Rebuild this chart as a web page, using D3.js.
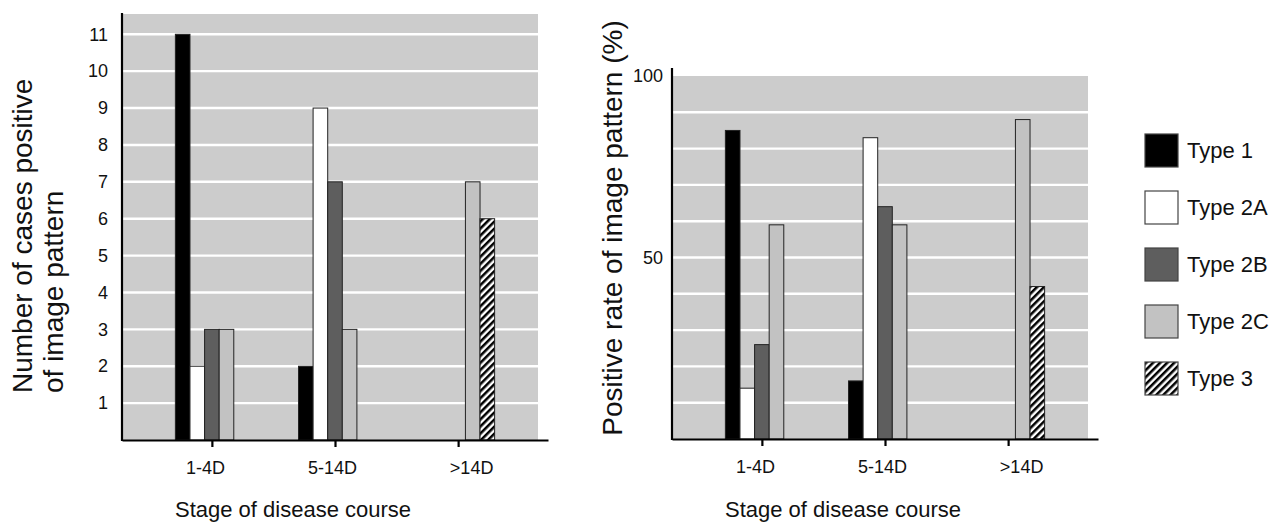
<!DOCTYPE html>
<html>
<head>
<meta charset="utf-8">
<script src="https://cdn.jsdelivr.net/npm/d3@7"></script>
<style>
  body { margin: 0; background: #fff; }
  svg { display: block; font-family: "Liberation Sans", Arial, sans-serif; }
</style>
</head>
<body>
<div id="chart"></div>
<script>
// categories
var stages = ["1-4D", "5-14D", ">14D"];
var types = ["Type 1", "Type 2A", "Type 2B", "Type 2C", "Type 3"];

// left panel: number of cases
var countType1 = [11, 2, 0];
var countType2A = [2, 9, 0];
var countType2B = [3, 7, 0];
var countType2C = [3, 3, 7];
var countType3 = [0, 0, 6];
var countTicks = [1, 2, 3, 4, 5, 6, 7, 8, 9, 10, 11];

// right panel: positive rate (%)
var rateType1 = [85, 16, 0];
var rateType2A = [14, 83, 0];
var rateType2B = [26, 64, 0];
var rateType2C = [59, 59, 88];
var rateType3 = [0, 0, 42];
var rateTicks = [50, 100];
var rateGrid = [10, 20, 30, 40, 50, 60, 70, 80, 90];

var width = 1278, height = 523;

var svg = d3.select("#chart")
    .append("svg")
    .attr("width", width)
    .attr("height", height);

// hatch for Type 3
svg.append("defs").append("pattern")
    .attr("id", "hatch")
    .attr("patternUnits", "userSpaceOnUse")
    .attr("width", 5)
    .attr("height", 5)
    .attr("patternTransform", "rotate(45)")
    .call(p => p.append("rect").attr("width", 5).attr("height", 5).attr("fill", "#fff"))
    .call(p => p.append("line").attr("x1", 1.25).attr("x2", 1.25).attr("y1", 0).attr("y2", 5)
        .attr("stroke", "#000").attr("stroke-width", 2.6));

var fills = {
    "Type 1": "#000000",
    "Type 2A": "#ffffff",
    "Type 2B": "#5e5e5e",
    "Type 2C": "#c2c2c2",
    "Type 3": "url(#hatch)"
};

function drawPanel(cfg) {
    var g = svg.append("g");

    // x scale - one point per stage, bars grouped around it
    var x = d3.scalePoint()
        .domain(stages)
        .range([cfg.left, cfg.left + 426])
        .padding(0.73);

    var xi = d3.scaleBand()
        .domain(types)
        .range([-36.5, 36.5]);

    var y = d3.scaleLinear()
        .domain([0, cfg.yMax])
        .range([cfg.bottom, cfg.bgTop]);

    // grey plot background
    g.append("rect")
        .attr("x", cfg.left + 1)
        .attr("y", y(cfg.yMax))
        .attr("width", 415)
        .attr("height", y(0) - y(cfg.yMax))
        .attr("fill", "#cccccc");

    // white grid lines
    g.append("g")
        .selectAll("line")
        .data(cfg.grid)
        .enter().append("line")
        .attr("x1", cfg.left + 1)
        .attr("x2", cfg.left + 416)
        .attr("y1", d => y(d))
        .attr("y2", d => y(d))
        .attr("stroke", "#fff")
        .attr("stroke-width", 2.4);

    // bars
    var rows = [];
    stages.forEach(function (s, i) {
        types.forEach(function (t, j) {
            var v = cfg.series[j][i];
            if (v > 0) rows.push({stage: s, type: t, value: v});
        });
    });

    g.append("g")
        .selectAll("rect")
        .data(rows)
        .enter().append("rect")
        .attr("x", d => x(d.stage) + xi(d.type))
        .attr("y", d => y(d.value))
        .attr("width", xi.bandwidth())
        .attr("height", d => y(0) - y(d.value))
        .attr("fill", d => fills[d.type])
        .attr("stroke", "#222")
        .attr("stroke-width", 1);

    // y axis labels
    var yAxis = g.append("g")
        .attr("transform", "translate(" + cfg.left + ",0)")
        .call(d3.axisLeft(y).tickValues(cfg.ticks).tickSize(0).tickPadding(cfg.tickPad));
    yAxis.select(".domain").remove();
    yAxis.selectAll("text")
        .style("font-size", "18px")
        .attr("fill", "#111");

    // y axis line (runs a bit above the grey)
    g.append("line")
        .attr("x1", cfg.left).attr("x2", cfg.left)
        .attr("y1", cfg.axisTop).attr("y2", cfg.bottom + 1)
        .attr("stroke", "#000").attr("stroke-width", 2.2);

    // x axis
    var xAxis = g.append("g")
        .attr("transform", "translate(0," + cfg.bottom + ")")
        .call(d3.axisBottom(x).tickSize(7).tickSizeOuter(0));
    xAxis.select(".domain")
        .attr("stroke", "#000")
        .attr("stroke-width", 2.2);
    xAxis.selectAll(".tick line")
        .attr("stroke", "#000")
        .attr("stroke-width", 2.2);
    var labelShift = [-7, -3, 13];
    xAxis.selectAll(".tick text")
        .attr("y", 34)
        .attr("dy", 0)
        .attr("dx", (d, i) => labelShift[i])
        .style("font-size", "18px")
        .attr("fill", "#111");

    // x title
    g.append("text")
        .attr("x", cfg.left + 53)
        .attr("y", 517)
        .style("font-size", "22px")
        .attr("fill", "#111")
        .text("Stage of disease course");

    // y title
    var yt = g.append("text")
        .attr("transform", "translate(" + cfg.titleX + "," + cfg.titleY + ") rotate(-90)")
        .attr("text-anchor", cfg.titleAnchor)
        .style("font-size", "28px")
        .attr("fill", "#111");
    cfg.title.forEach(function (line, i) {
        yt.append("tspan")
            .attr("x", 0)
            .attr("y", i * 31)
            .text(line);
    });
}

drawPanel({
    left: 122, bottom: 440, bgTop: 14, axisTop: 13, yMax: 11.55,
    series: [countType1, countType2A, countType2B, countType2C, countType3],
    ticks: countTicks, grid: countTicks, tickPad: 14,
    title: ["Number of cases positive", "of image pattern"],
    titleX: 32, titleY: 393, titleAnchor: "start"
});

drawPanel({
    left: 672, bottom: 439, bgTop: 76, axisTop: 68, yMax: 100,
    series: [rateType1, rateType2A, rateType2B, rateType2C, rateType3],
    ticks: rateTicks, grid: rateGrid, tickPad: 9,
    title: ["Positive rate of image pattern (%)"],
    titleX: 622, titleY: 228, titleAnchor: "middle"
});

// legend
var legend = svg.append("g")
    .selectAll("g")
    .data(types)
    .enter().append("g")
    .attr("transform", (d, i) => "translate(1145," + (134 + i * 57) + ")");

legend.append("rect")
    .attr("width", 33)
    .attr("height", 33)
    .attr("fill", d => fills[d])
    .attr("stroke", "#444")
    .attr("stroke-width", 1.2);

legend.append("text")
    .attr("x", 42)
    .attr("y", 24)
    .style("font-size", "22px")
    .attr("fill", "#111")
    .text(d => d);
</script>
</body>
</html>
